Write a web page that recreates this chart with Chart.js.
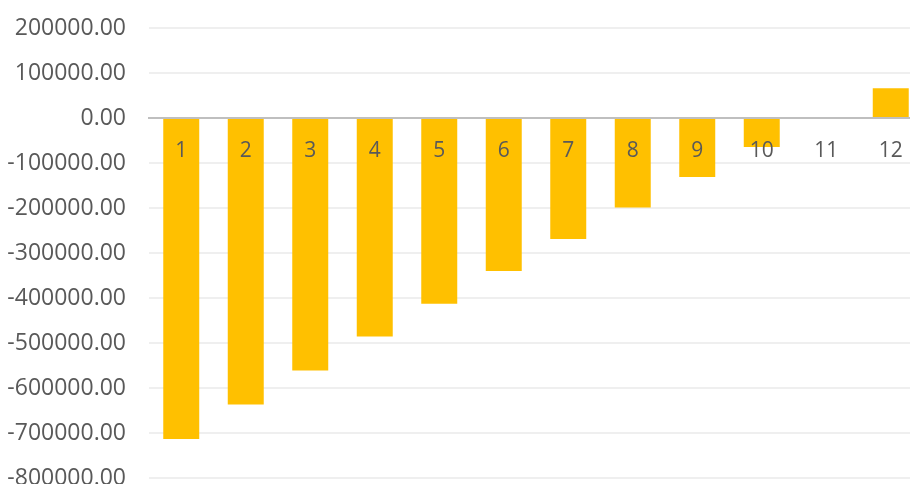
<!DOCTYPE html>
<html>
<head>
<meta charset="utf-8">
<title>Chart</title>
<script src="https://cdn.jsdelivr.net/npm/chart.js@4/dist/chart.umd.min.js"></script>
<style>
  html, body { margin: 0; padding: 0; background: #fff; overflow: hidden; }
  .wrap { width: 910px; height: 484px; overflow: hidden; }
</style>
</head>
<body>
<div class="wrap">
  <canvas class="chart" width="930" height="514"></canvas>
</div>
<script>
(function() {

    let periods = ['1', '2', '3', '4', '5', '6', '7', '8', '9', '10', '11', '12'];

    let balance = [-713500, -636500, -561000, -485500, -412500, -340000, -269000, -199000, -131000, -64500, 0, 66000];

    let yMin = -800000;
    let yMax = 200000;
    let yStep = 100000;

    let ctx = document.querySelector('.chart');

    /**
     * Formats the value ticks with two decimals
     */
    let formatTick = value => Number(value).toFixed(2);

    /**
     * Fixed width for the value axis, no extra room above and below
     */
    let fitValueAxis = scale => {
        scale.width = 149;
        scale.paddingTop = 0;
        scale.paddingBottom = 0;
    };

    let plotChart = () => {
        new Chart(ctx, {
            type: 'bar',
            data: {
                labels: periods,
                datasets: [{
                    data: balance,
                    backgroundColor: '#FFC000',
                    borderWidth: 0,
                    barPercentage: 0.558,
                    categoryPercentage: 1
                }]
            },
            options: {
                responsive: false,
                animation: false,
                layout: {
                    padding: { top: 28, right: 7, bottom: 36, left: 0 }
                },
                plugins: {
                    legend: { display: false },
                    tooltip: { enabled: false }
                },
                scales: {
                    x: {
                        position: { y: 0 },
                        afterFit: scale => { scale.height = 0; },
                        grid: { display: false, drawTicks: false },
                        border: { display: true, color: '#BFBFBF', width: 2, z: 1 },
                        ticks: {
                            z: 1,
                            padding: 20,
                            color: '#595959',
                            font: { family: 'Open Sans', size: 21 }
                        }
                    },
                    y: {
                        min: yMin,
                        max: yMax,
                        afterFit: fitValueAxis,
                        grid: { color: '#EFEFEF', lineWidth: 2, drawTicks: false },
                        border: { display: false },
                        ticks: {
                            stepSize: yStep,
                            padding: 23,
                            color: '#595959',
                            font: { family: 'Open Sans', size: 23 },
                            callback: formatTick
                        }
                    }
                }
            }
        });
    };

    plotChart();

})();
</script>
</body>
</html>
